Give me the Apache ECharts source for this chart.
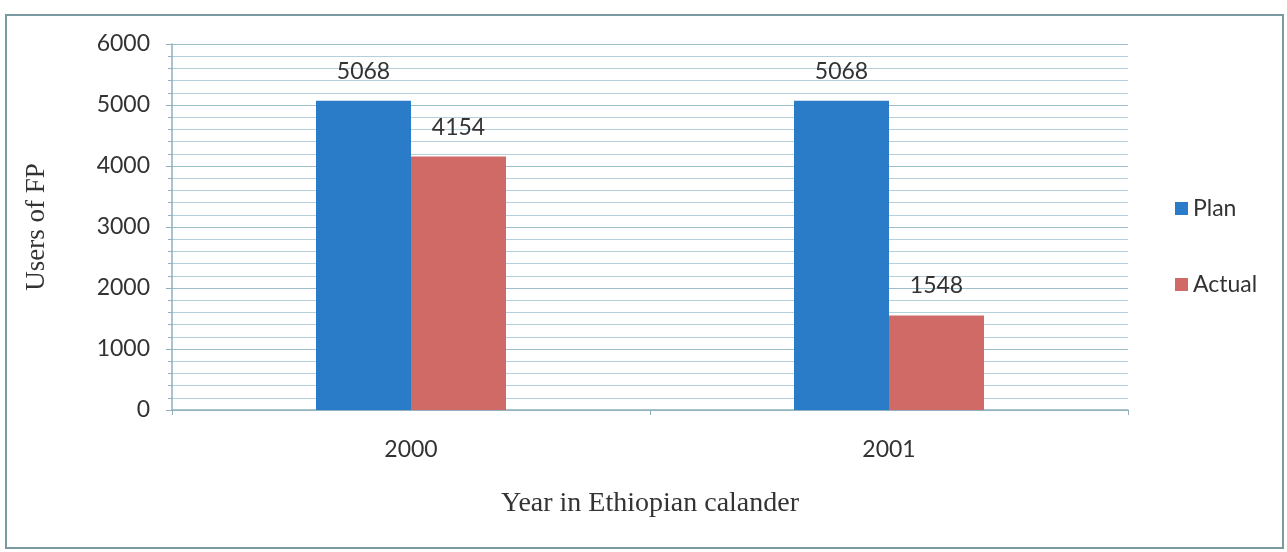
<!DOCTYPE html>
<html><head><meta charset="utf-8">
<script src="https://cdn.jsdelivr.net/npm/echarts@6/dist/echarts.min.js"></script>
<style>html,body{margin:0;padding:0;background:#fff}#c{width:1287px;height:552px}</style>
</head><body><div id="c"></div>
<script>
const categories = ['2000', '2001'];
const planValues = [5068, 5068];
const actualValues = [4154, 1548];
const seriesNames = ['Plan', 'Actual'];

const chart = echarts.init(document.getElementById('c'));
const labelFont = 'Lato, "Open Sans", sans-serif';
const serifFont = '"Liberation Serif", "DejaVu Serif", serif';
chart.setOption({
  animation: false,
  backgroundColor: '#fff',
  graphic: [{
    type: 'rect', shape: {x: 6, y: 15, width: 1277, height: 533},
    style: {fill: 'none', stroke: '#7a9aa2', lineWidth: 2}, z: -1
  }],
  grid: {left: 172, right: 159, top: 44, bottom: 142},
  legend: {
    orient: 'vertical', left: 1170, top: 192, itemGap: 53,
    itemWidth: 13, itemHeight: 13, icon: 'rect',
    textStyle: {fontFamily: labelFont, fontSize: 23, color: '#333'},
    data: seriesNames
  },
  xAxis: {
    type: 'category', data: categories,
    name: 'Year in Ethiopian calander', nameLocation: 'middle', nameGap: 80,
    nameTextStyle: {fontFamily: serifFont, fontSize: 28, color: '#333'},
    axisLine: {lineStyle: {color: '#8fb0bb', width: 1.5}},
    axisTick: {show: true, length: 5, lineStyle: {color: '#8fb0bb'}},
    axisLabel: {fontFamily: labelFont, fontSize: 23, color: '#333', margin: 28}
  },
  yAxis: {
    type: 'value', min: 0, max: 6000, interval: 1000,
    name: 'Users of FP', nameLocation: 'middle', nameGap: 122,
    nameTextStyle: {fontFamily: serifFont, fontSize: 27, color: '#333'},
    axisLine: {show: true, lineStyle: {color: '#8fb0bb', width: 1.5}},
    axisTick: {show: true, length: 6, lineStyle: {color: '#8fb0bb'}},
    minorTick: {show: true, splitNumber: 5, length: 4, lineStyle: {color: '#8fb0bb'}},
    axisLabel: {fontFamily: labelFont, fontSize: 23, color: '#333', margin: 22,
      formatter: v => String(v)},
    splitLine: {lineStyle: {color: '#9dbfcc', width: 1.2}},
    minorSplitLine: {show: true, lineStyle: {color: '#b5d0dc', width: 1}}
  },
  series: [{
    name: seriesNames[0], type: 'bar', data: planValues,
    barWidth: 95, barGap: '0%',
    itemStyle: {color: '#2a7cc8'},
    label: {show: true, position: 'top', distance: 18, fontFamily: labelFont, fontSize: 23, color: '#333'}
  }, {
    name: seriesNames[1], type: 'bar', data: actualValues,
    barWidth: 95,
    itemStyle: {color: '#d06a66'},
    label: {show: true, position: 'top', distance: 18, fontFamily: labelFont, fontSize: 23, color: '#333'}
  }]
});
</script></body></html>
